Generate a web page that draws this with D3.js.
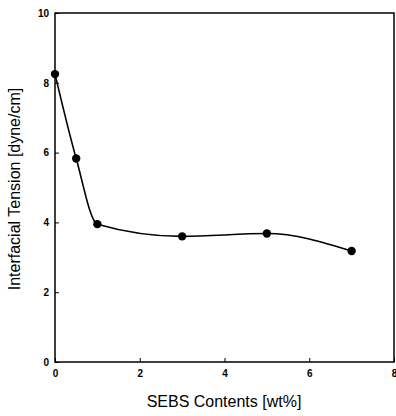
<!DOCTYPE html>
<html><head><meta charset="utf-8">
<script src="https://cdn.jsdelivr.net/npm/d3@7"></script>
<style>body{margin:0;background:#fff}svg{display:block}</style>
</head><body>
<svg id="c" width="396" height="416"></svg>
<script>
const sebs = [0, 0.5, 1, 3, 5, 7];
const tension = [8.25, 5.83, 3.95, 3.6, 3.68, 3.18];
const xTicks = [0, 2, 4, 6, 8];
const yTicks = [0, 2, 4, 6, 8, 10];
const xTitle = "SEBS Contents [wt%]";
const yTitle = "Interfacial Tension [dyne/cm]";

const svg = d3.select("#c");
const L = 55, R = 394, T = 13, B = 362;
const x = d3.scaleLinear().domain([0, 8]).range([L, R]);
const y = d3.scaleLinear().domain([0, 10]).range([B, T]);

const ax = svg.append("g").attr("font-family", "Liberation Sans, Arial, sans-serif");
ax.append("rect").attr("x", L).attr("y", T).attr("width", R - L).attr("height", B - T)
  .attr("fill", "none").attr("stroke", "#000").attr("stroke-width", 1.5);

const xa = ax.append("g").attr("transform", `translate(0,${B})`)
  .call(d3.axisBottom(x).tickValues(xTicks).tickSize(-4).tickPadding(8).tickFormat(d3.format("d")));
const ya = ax.append("g").attr("transform", `translate(${L},0)`)
  .call(d3.axisLeft(y).tickValues(yTicks).tickSize(-4).tickPadding(6).tickFormat(d3.format("d")));
[xa, ya].forEach(g => {
  g.select(".domain").remove();
  g.selectAll("line").attr("stroke", "#000").attr("stroke-width", 1);
  g.selectAll("text").attr("font-size", 10).attr("font-weight", "bold").attr("fill", "#000")
    .attr("font-family", "Liberation Sans, Arial, sans-serif");
});

ax.append("text").attr("x", 224).attr("y", 407).attr("text-anchor", "middle")
  .attr("font-size", 16).attr("fill", "#000").text(xTitle);
ax.append("text").attr("transform", "translate(20,189) rotate(-90)").attr("text-anchor", "middle")
  .attr("font-size", 16).attr("fill", "#000").text(yTitle);

const data = sebs.map((d, i) => [d, tension[i]]);
svg.append("path").datum(data)
  .attr("d", d3.line().x(d => x(d[0])).y(d => y(d[1])).curve(d3.curveMonotoneX))
  .attr("fill", "none").attr("stroke", "#000").attr("stroke-width", 1.6);
svg.selectAll("circle.p").data(data).join("circle").attr("class", "p")
  .attr("cx", d => x(d[0])).attr("cy", d => y(d[1])).attr("r", 4.2).attr("fill", "#000");
</script>
</body></html>
